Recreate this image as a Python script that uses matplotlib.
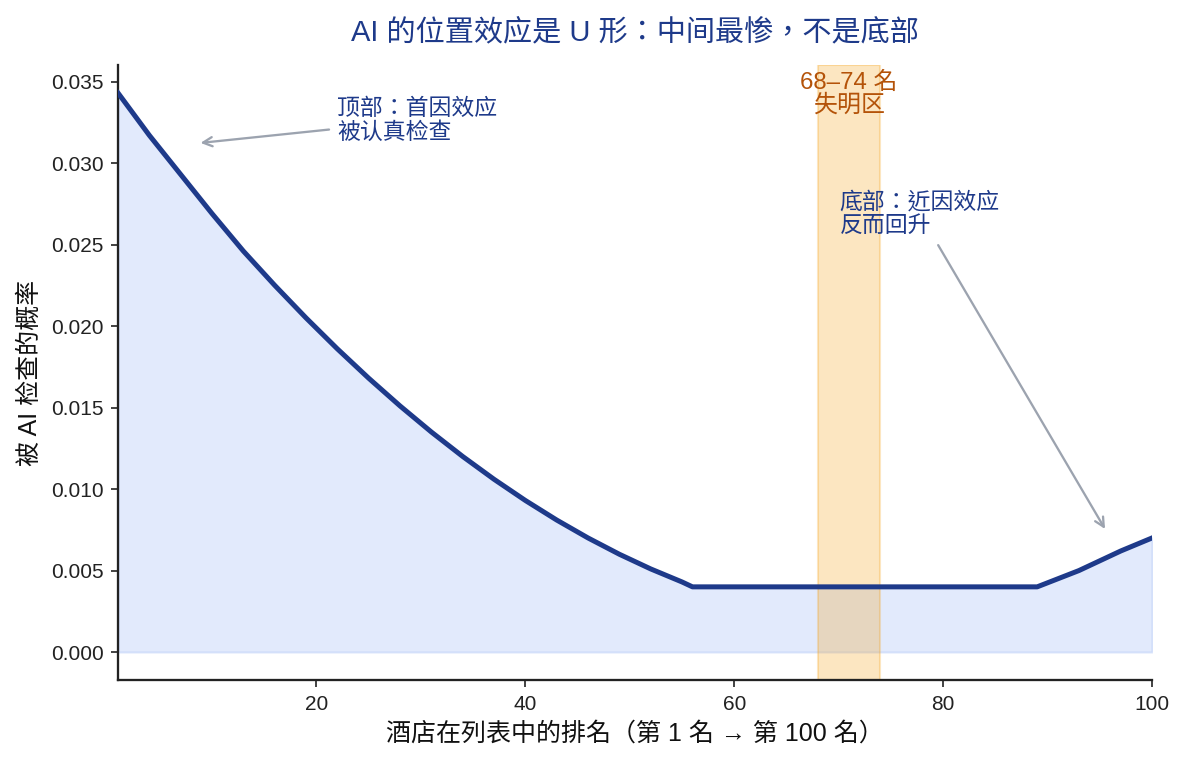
import matplotlib
matplotlib.use("Agg")
import matplotlib.pyplot as plt

plt.rcParams['font.family'] = ['Liberation Sans', 'Noto Sans CJK TC', 'DejaVu Sans']

# Data
ranks = [1, 4, 7, 10, 13, 16, 19, 22, 25, 28, 31, 34, 37, 40, 43, 46, 49,
         52, 55, 56, 89, 91, 93, 95, 97, 100]
probs = [0.0343, 0.0317, 0.0293, 0.0269, 0.0246, 0.0225, 0.0205, 0.0186,
         0.0168, 0.0151, 0.0135, 0.0120, 0.0106, 0.0093, 0.0081, 0.0070,
         0.0060, 0.0051, 0.0043, 0.0040, 0.0040, 0.0045, 0.0050, 0.0056,
         0.0062, 0.0070]
blind_zone = (68, 74)

title = "AI 的位置效应是 U 形：中间最惨，不是底部"
xlabel = "酒店在列表中的排名（第 1 名 → 第 100 名）"
ylabel = "被 AI 检查的概率"
note_top = "顶部：首因效应\n被认真检查"
note_bottom = "底部：近因效应\n反而回升"
note_zone = "68–74 名\n失明区"

navy = '#1e3a8a'
fig = plt.figure(figsize=(7.9, 5.1), dpi=150)
ax = fig.add_axes([0.0996, 0.1111, 0.8726, 0.8039])

ax.fill_between(ranks, probs, 0, color='#2563eb', alpha=0.13, zorder=1)
ax.axvspan(blind_zone[0], blind_zone[1], color='#f59e0b', alpha=0.25, zorder=1.5)
ax.plot(ranks, probs, color=navy, lw=2.4, zorder=3, solid_joinstyle='round')

ax.set_xlim(1, 100)
ax.margins(y=0.05)

ax.text(sum(blind_zone) / 2, 0.0342, note_zone, ha='center', va='center',
        fontsize=11.5, color='#b45309', linespacing=1.0)

arrow = dict(arrowstyle='->', color='#9ca3af', lw=1.1)
ax.annotate(note_top, xy=(8.5, 0.03121), xytext=(22.0, 0.03262),
            ha='left', va='center', fontsize=11, color=navy,
            linespacing=1.05, arrowprops=arrow)
ax.annotate(note_bottom, xy=(95.7, 0.00733), xytext=(70.1, 0.02688),
            ha='left', va='center', fontsize=11, color=navy,
            linespacing=1.05, arrowprops=arrow)

ax.set_title(title, fontsize=14, color=navy, pad=12)
ax.set_xlabel(xlabel, fontsize=12, color='#111111')
ax.set_ylabel(ylabel, fontsize=12, color='#111111')

for s in ['top', 'right']:
    ax.spines[s].set_visible(False)
for s in ['left', 'bottom']:
    ax.spines[s].set_linewidth(1.1)
    ax.spines[s].set_color('#222222')
ax.tick_params(labelsize=10, colors='#222222')

fig.savefig('out.png', dpi=150)
